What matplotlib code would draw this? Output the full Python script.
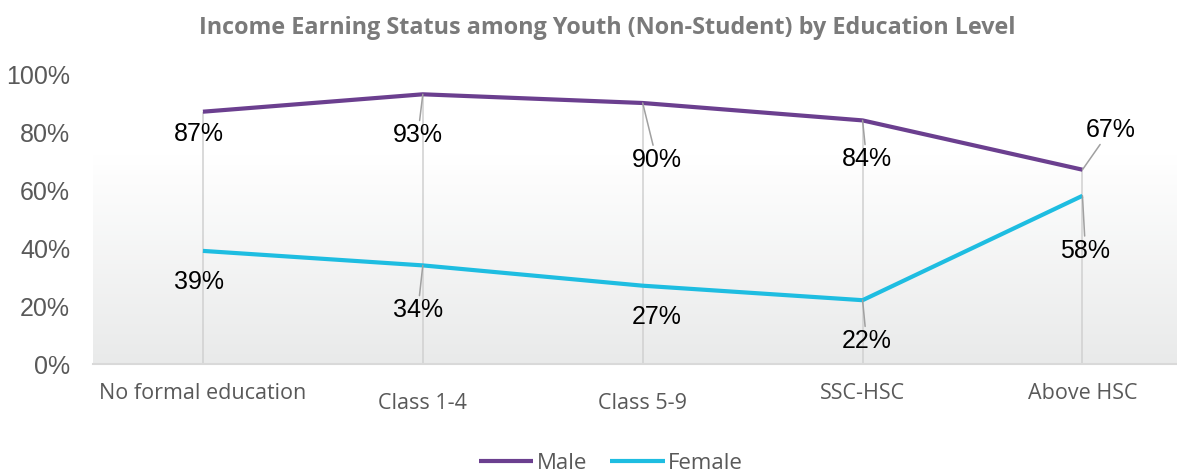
import numpy as np
import matplotlib
matplotlib.use("Agg")
import matplotlib.pyplot as plt
import matplotlib.transforms as mtransforms
from matplotlib.colors import LinearSegmentedColormap

# data
categories = ["No formal education", "Class 1-4", "Class 5-9", "SSC-HSC", "Above HSC"]
male = [87, 93, 90, 84, 67]
female = [39, 34, 27, 22, 58]

# label placement (pixel offsets from the point) and leader lines
male_offsets = [(-4, -22), (-5, -41), (14, -57), (4, -39), (28, 40)]
male_leaders = [False, True, True, True, True]
female_offsets = [(-4, -31), (-5, -45), (14, -31), (4, -41), (3, -55)]
female_leaders = [False, True, False, True, True]
tick_drop = [29, 39, 39, 29, 29]

MALE_COLOR = "#6b3f8f"
FEMALE_COLOR = "#1ebde1"
GRAY_TEXT = "#595959"

fig = plt.figure(figsize=(11.77, 4.73), dpi=100)
ax = fig.add_axes([93 / 1177, 109 / 473, 1 - 93 / 1177, 290 / 473])

x = np.arange(len(categories))
ax.set_xlim(-0.5, 4.43)
ax.set_ylim(0, 100)

# background gradient in the lower part of the plot area
cmap = LinearSegmentedColormap.from_list("bg", ["#e9eaea", "#ffffff"])
grad = np.linspace(0, 1, 256).reshape(-1, 1)
ax.imshow(grad, cmap=cmap, origin="lower", aspect="auto",
          extent=(-0.5, 4.43, 0, 72), zorder=0)

# drop lines
tops = np.maximum(male, female)
ax.vlines(x, 0, tops, color="#d0d0d0", linewidth=1.1, zorder=1)

ax.plot(x, male, color=MALE_COLOR, linewidth=3, label="Male", zorder=3,
        solid_capstyle="butt")
ax.plot(x, female, color=FEMALE_COLOR, linewidth=3, label="Female", zorder=3,
        solid_capstyle="butt")


def add_labels(values, offsets, leaders):
    for i, v in enumerate(values):
        dx, dy = offsets[i]
        props = None
        if leaders[i]:
            props = dict(arrowstyle="-", color="#a0a0a0", linewidth=1.1,
                         shrinkA=0, shrinkB=0)
        ax.annotate(f"{v}%", xy=(x[i], v), xytext=(dx, dy),
                    textcoords="offset pixels", ha="center", va="center",
                    fontsize=18, family="Liberation Sans", color="black",
                    arrowprops=props, zorder=4)


add_labels(male, male_offsets, male_leaders)
add_labels(female, female_offsets, female_leaders)

# axes styling
for s in ["top", "right", "left"]:
    ax.spines[s].set_visible(False)
ax.spines["bottom"].set_color("#d9d9d9")
ax.spines["bottom"].set_linewidth(1.5)
ax.set_yticks(range(0, 101, 20))
ax.set_yticklabels([f"{t}%" for t in range(0, 101, 20)],
                   fontsize=18, family="Liberation Sans", color=GRAY_TEXT)
ax.tick_params(axis="both", length=0)
ax.tick_params(axis="y", pad=16.5)
ax.set_xticks([])

# staggered category labels
for i, name in enumerate(categories):
    off = mtransforms.ScaledTranslation(0, -tick_drop[i] / 100, fig.dpi_scale_trans)
    trans = mtransforms.blended_transform_factory(ax.transData, ax.transAxes) + off
    ax.text(x[i], 0, name, transform=trans, ha="center", va="center",
            fontsize=15.5, family="Open Sans", color=GRAY_TEXT)

fig.text(0.516, 1 - 28 / 473, "Income Earning Status among Youth (Non-Student) by Education Level",
         ha="center", va="center", fontsize=16.8, fontweight="bold",
         family="Open Sans", color="#7a7a7a")

fig.legend(loc="center", bbox_to_anchor=(0.519, 1 - 463 / 473), ncol=2,
           frameon=False, handlelength=2.45, handletextpad=0.15, columnspacing=1.05,
           prop=dict(family="Open Sans", size=16), labelcolor=GRAY_TEXT)

fig.savefig("out.png", dpi=100)
